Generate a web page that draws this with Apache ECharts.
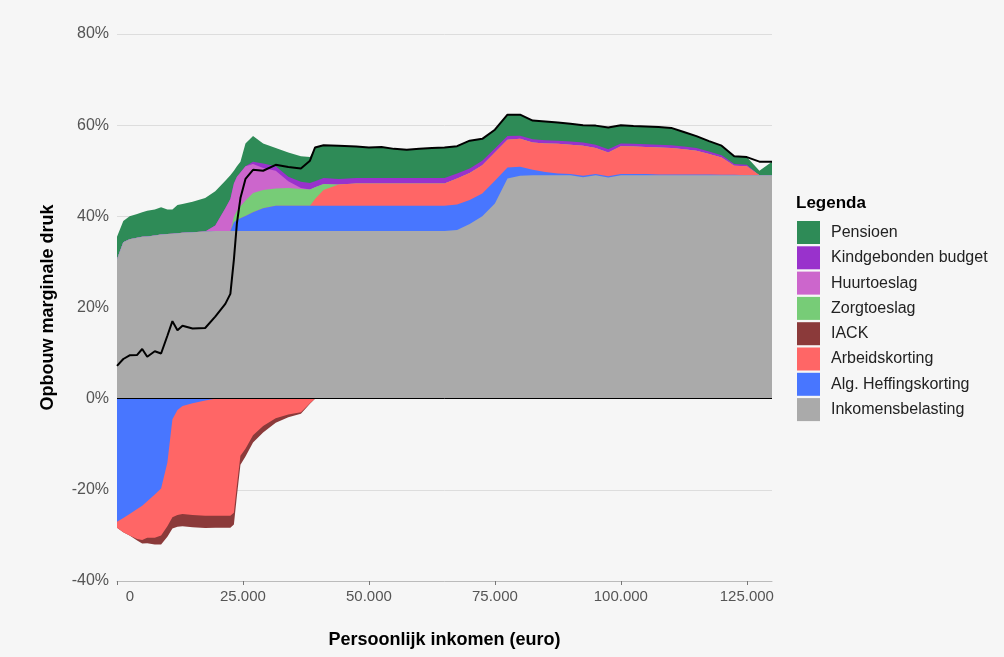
<!DOCTYPE html>
<html>
<head>
<meta charset="utf-8">
<script src="https://cdn.jsdelivr.net/npm/echarts@6/dist/echarts.min.js"></script>
<style>
html,body{margin:0;padding:0;background:#f6f6f6;}
#chart{width:1004px;height:657px;}
</style>
</head>
<body>
<div id="chart"></div>
<script>
// Persoonlijk inkomen (euro)
const inkomen = [0,1250,2500,4000,5000,6000,7500,8750,10000,11000,
  12000,13000,15000,17500,19500,21500,22500,23200,23800,24500,
  25500,27000,29000,31500,34000,36500,38300,39300,41000,44000,
  47500,50000,52500,55000,57500,60000,62500,65000,67500,70000,
  72500,75000,77500,80000,82500,85000,87500,90000,92500,95000,
  97500,100000,102500,105000,107500,110000,112500,115000,117500,120000,
  122500,125000,127500,130000];

// Components of the marginal pressure (%)
const inkomensbelasting = [30.6,34.3,35.0,35.3,35.5,35.6,35.8,36.0,36.1,36.2,
  36.3,36.4,36.5,36.7,36.8,36.8,36.8,36.8,36.8,36.8,
  36.8,36.8,36.8,36.8,36.8,36.8,36.8,36.8,36.8,36.8,
  36.8,36.8,36.8,36.8,36.8,36.8,36.8,36.8,37.0,38.3,
  40.0,42.8,48.3,48.9,49.0,49.0,49.0,49.0,48.6,49.0,
  48.5,49.0,49.0,49.0,49.0,49.0,49.0,49.0,49.0,49.0,
  49.0,49.0,49.0,49.0];
const algHeffingskorting = [-27.0,-26.2,-25.3,-24.2,-23.5,-22.5,-21.0,-19.7,-14.0,-4.5,
  -2.5,-1.6,-1.0,-0.4,0,0,0,1.9,2.4,2.8,
  3.3,4.1,5.0,5.5,5.5,5.5,5.5,5.5,5.5,5.5,
  5.5,5.5,5.5,5.5,5.5,5.5,5.5,5.5,5.6,5.3,
  5.0,5.0,2.4,2.0,1.2,0.7,0.4,0.3,0.3,0.3,
  0.3,0.3,0.3,0.3,0.2,0.2,0.2,0.2,0.2,0.1,
  0.1,0,0,0];
const arbeidskorting = [-1.3,-3.1,-4.7,-6.6,-7.5,-8.0,-9.5,-10.3,-14.0,-21.5,
  -23.0,-23.7,-24.5,-25.3,-25.7,-25.7,-25.7,-25.0,-19.0,-12.5,
  -11.0,-8.0,-6.0,-4.3,-3.5,-3.0,-1.0,1.5,3.5,4.7,
  4.9,4.9,4.9,4.9,4.9,4.9,4.9,4.9,5.7,5.9,
  6.2,6.2,6.1,6.1,6.0,6.3,6.5,6.4,6.6,5.7,
  5.2,6.1,6.0,5.9,5.9,5.8,5.5,5.2,4.5,3.8,
  2.0,2.0,0,0];
const iack = [0,0,0,-0.3,-0.8,-1.2,-1.5,-2.0,-2.3,-2.5,
  -2.6,-2.7,-2.7,-2.7,-2.6,-2.6,-2.6,-2.6,-2.3,-2.0,
  -1.7,-1.6,-1.4,-1.0,-0.6,-0.3,-0.1,0,0,0,
  0,0,0,0,0,0,0,0,0,0,
  0,0,0,0,0,0,0,0,0,0,
  0,0,0,0,0,0,0,0,0,0,
  0,0,0,0];
const zorgtoeslag = [0,0,0,0,0,0,0,0,0,0,
  0,0,0,0,0,0,0,1.2,2.0,2.6,
  3.4,4.2,4.0,3.8,3.9,3.7,3.6,2.6,1.3,0,
  0,0,0,0,0,0,0,0,0,0,
  0,0,0,0,0,0,0,0,0,0,
  0,0,0,0,0,0,0,0,0,0,
  0,0,0,0];
const huurtoeslag = [0,0,0,0,0,0,0,0,0,0,
  0,0,0,0,1.2,5.0,7.0,7.3,7.5,7.4,
  7.5,6.4,4.8,3.9,1.5,0.2,0,0,0,0,
  0,0,0,0,0,0,0,0,0,0,
  0,0,0,0,0,0,0,0,0,0,
  0,0,0,0,0,0,0,0,0,0,
  0,0,0,0];
const kindgebondenBudget = [0,0,0,0,0,0,0,0,0,0,
  0,0,0,0,0,0,0,0,0,0,
  0,0.5,1.0,1.0,1.0,1.4,1.4,1.3,1.3,1.2,
  1.2,1.2,1.2,1.2,1.2,1.2,1.2,1.2,1.1,1.0,
  1.0,0.9,0.8,0.7,0.7,0.7,0.7,0.7,0.7,0.7,
  0.7,0.6,0.6,0.6,0.6,0.6,0.6,0.6,0.5,0.5,
  0.4,0.3,0,0];
const pensioen = [4.9,4.7,5.0,5.2,5.4,5.6,5.7,6.0,5.4,5.3,
  6.2,6.3,6.7,7.3,7.5,6.0,5.2,2.8,2.3,2.4,
  5.0,5.6,4.4,4.0,5.3,5.6,5.7,7.3,7.2,7.3,
  6.9,6.7,6.8,6.4,6.2,6.4,6.6,6.7,6.0,6.1,
  4.8,4.1,4.7,4.6,4.1,4.1,4.0,3.9,3.8,4.2,
  4.8,4.0,3.9,3.9,3.9,3.8,3.2,2.6,2.3,2.1,
  1.7,1.7,1.0,3.0];
// Total marginal pressure (black line)
const totaal = [7.2,8.7,9.5,9.6,10.9,9.2,10.4,9.9,13.8,17.0,
  15.0,16.0,15.4,15.5,18.0,20.8,23.0,30.5,38.5,44.0,
  48.2,50.2,50.0,51.3,50.8,50.5,52.2,55.1,55.6,55.5,
  55.3,55.1,55.2,54.8,54.6,54.8,55.0,55.1,55.4,56.6,
  57.0,59.0,62.3,62.3,61.0,60.8,60.6,60.3,60.0,59.9,
  59.5,60.0,59.8,59.7,59.6,59.4,58.5,57.6,56.5,55.5,
  53.2,53.0,52.0,52.0];

const xTicks = [0,25000,50000,75000,100000,125000];

const legendOrder = ['Pensioen','Kindgebonden budget','Huurtoeslag','Zorgtoeslag','IACK','Arbeidskorting','Alg. Heffingskorting','Inkomensbelasting'];
const colors = {
  'Pensioen':'#2e8b57',
  'Kindgebonden budget':'#9932cc',
  'Huurtoeslag':'#cc66cc',
  'Zorgtoeslag':'#77cc77',
  'IACK':'#8b3a3a',
  'Arbeidskorting':'#ff6666',
  'Alg. Heffingskorting':'#4876ff',
  'Inkomensbelasting':'#aaaaaa'
};

// Stack order (bottom -> top) for positive and negative parts
const posStack = [
  ['Inkomensbelasting', inkomensbelasting],
  ['Alg. Heffingskorting', algHeffingskorting],
  ['Arbeidskorting', arbeidskorting],
  ['Zorgtoeslag', zorgtoeslag],
  ['Huurtoeslag', huurtoeslag],
  ['Kindgebonden budget', kindgebondenBudget],
  ['Pensioen', pensioen]
];
const negStack = [
  ['Alg. Heffingskorting', algHeffingskorting],
  ['Arbeidskorting', arbeidskorting],
  ['IACK', iack]
];

// Cumulative layer boundaries; painted from outermost to innermost so each band shows.
function cumulativeLayers(stack, sign) {
  const acc = inkomen.map(() => 0);
  const layers = [];
  stack.forEach(([name, vals]) => {
    for (let i = 0; i < inkomen.length; i++) {
      const v = vals[i];
      acc[i] += sign > 0 ? Math.max(v, 0) : Math.min(v, 0);
    }
    layers.push({name: name, data: inkomen.map((x, i) => [x, +acc[i].toFixed(3)])});
  });
  return layers.reverse();
}

function areaSeries(layer) {
  const c = colors[layer.name];
  return {
    name: layer.name, type: 'line', data: layer.data,
    symbol: 'none', showSymbol: false, silent: true,
    lineStyle: {width: 0, color: c},
    itemStyle: {color: c},
    areaStyle: {color: c, opacity: 1, origin: 0},
    emphasis: {disabled: true}
  };
}

const series = []
  .concat(cumulativeLayers(posStack, 1).map(areaSeries))
  .concat(cumulativeLayers(negStack, -1).map(areaSeries));
series.push({
  name: 'Totaal', type: 'line', data: inkomen.map((x, i) => [x, totaal[i]]),
  symbol: 'none', showSymbol: false, z: 10, silent: true,
  lineStyle: {color: '#000', width: 2},
  itemStyle: {color: '#000'},
  markLine: {
    silent: true, symbol: ['none','none'], animation: false,
    label: {show: false},
    lineStyle: {color: '#000', width: 1, type: 'solid'},
    data: [{yAxis: 0}]
  }
});

function fmtThousands(v) {
  return String(Math.round(v)).replace(/\B(?=(\d{3})+(?!\d))/g, '.');
}

const FONT = 'Liberation Sans, Arial, sans-serif';
const chart = echarts.init(document.getElementById('chart'), null, {renderer: 'canvas'});
chart.setOption({
  animation: false,
  backgroundColor: '#f6f6f6',
  textStyle: {fontFamily: FONT},
  title: {
    text: 'Legenda', left: 796, top: 195, padding: 0,
    textStyle: {fontSize: 17, fontWeight: 'bold', color: '#000', fontFamily: FONT}
  },
  legend: {
    data: legendOrder, orient: 'vertical', left: 797, top: 221,
    itemWidth: 23, itemHeight: 23, itemGap: 2.3, icon: 'rect', padding: 0,
    selectedMode: false,
    textStyle: {fontSize: 16, color: '#222', padding: [0,0,0,6], fontFamily: FONT}
  },
  grid: {left: 117, right: 232, top: 34, bottom: 76, containLabel: false},
  xAxis: {
    type: 'value', min: 0, max: 130000, interval: 25000,
    name: 'Persoonlijk inkomen (euro)', nameLocation: 'middle', nameGap: 50,
    nameTextStyle: {fontSize: 18, fontWeight: 'bold', color: '#000'},
    axisLine: {show: true, onZero: false, lineStyle: {color: '#bbbbbb', width: 1}},
    axisTick: {show: true, length: 4, lineStyle: {color: '#777'}, customValues: xTicks},
    axisLabel: {
      fontSize: 15, color: '#555', margin: 8, customValues: xTicks,
      formatter: v => v === 0 ? '{z|0}' : fmtThousands(v),
      rich: {z: {fontSize: 15, color: '#555', padding: [0,0,0,26]}}
    },
    splitLine: {show: false}
  },
  yAxis: {
    type: 'value', min: -40, max: 80, interval: 20,
    name: 'Opbouw marginale druk', nameLocation: 'middle', nameGap: 60,
    nameTextStyle: {fontSize: 18, fontWeight: 'bold', color: '#000'},
    axisLine: {show: false},
    axisTick: {show: false},
    axisLabel: {fontSize: 16, color: '#555', margin: 8, formatter: v => v + '%'},
    splitLine: {show: true, lineStyle: {color: '#dddddd', width: 1}}
  },
  series: series
});
</script>
</body>
</html>
